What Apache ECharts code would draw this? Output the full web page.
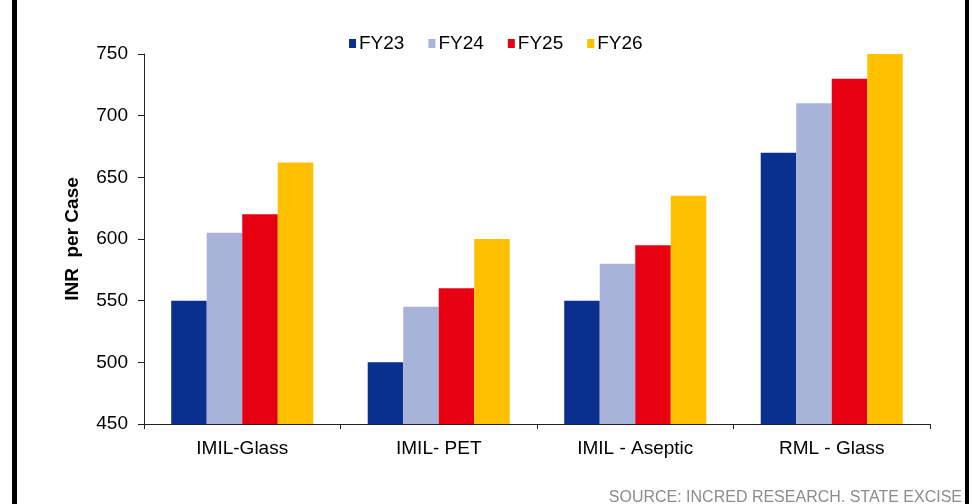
<!DOCTYPE html>
<html>
    <head>
        <meta charset="utf-8">
        <title>INR per Case</title>
        <script src="https://cdn.jsdelivr.net/npm/echarts@6/dist/echarts.min.js"></script>
        <style>
            html, body { margin: 0; padding: 0; background: #fff; }
            #chart1 { width: 973px; height: 504px; }
        </style>
    </head>
    <body>
        <div id="chart1"></div>
    </body>
    <script type="text/javascript">
        // categories and series values
        var categories = ['IMIL-Glass', 'IMIL- PET', 'IMIL - Aseptic', 'RML - Glass'];
        var seriesNames = ['FY23', 'FY24', 'FY25', 'FY26'];
        var fy23 = [550, 500, 550, 670];
        var fy24 = [605, 545, 580, 710];
        var fy25 = [620, 560, 595, 730];
        var fy26 = [662, 600, 635, 750];
        var yTicks = [450, 500, 550, 600, 650, 700, 750];

        var colors = ['#0a308f', '#a7b3d8', '#e60012', '#ffc000'];
        var values = [fy23, fy24, fy25, fy26];
        var font = 'Liberation Sans, Arial, sans-serif';

        var myChart1 = echarts.init(document.getElementById('chart1'));

        var option = {
            animation: false,
            textStyle: { fontFamily: font },
            grid: { left: 144, right: 43, top: 54, bottom: 80, containLabel: false },
            legend: {
                data: seriesNames,
                left: 349,
                top: 34,
                padding: 0,
                itemWidth: 7,
                itemHeight: 9,
                itemGap: 24,
                icon: 'rect',
                textStyle: { fontSize: 19, color: '#000', fontFamily: font, padding: [0, 0, 0, -2] }
            },
            xAxis: {
                type: 'category',
                data: categories,
                axisLine: { lineStyle: { color: '#222', width: 1 } },
                axisTick: { show: true, alignWithLabel: false, length: 5, lineStyle: { color: '#222' } },
                axisLabel: { fontSize: 19, color: '#000', margin: 15, interval: 0 }
            },
            yAxis: {
                type: 'value',
                min: yTicks[0],
                max: yTicks[yTicks.length - 1],
                interval: 50,
                name: 'INR  per Case',
                nameLocation: 'middle',
                nameGap: 62,
                nameTextStyle: { fontSize: 19, fontWeight: 'bold', color: '#000' },
                axisLine: { show: true, lineStyle: { color: '#222', width: 1 } },
                axisTick: { show: true, length: 6, lineStyle: { color: '#222' } },
                axisLabel: { fontSize: 19, color: '#000', margin: 16 },
                splitLine: { show: false }
            },
            series: seriesNames.map(function (name, i) {
                return {
                    name: name,
                    type: 'bar',
                    data: values[i],
                    barGap: '0%',
                    barCategoryGap: '27.7%',
                    itemStyle: { color: colors[i] }
                };
            }),
            graphic: [
                { type: 'rect', shape: { x: 12, y: 0, width: 5, height: 504 }, style: { fill: '#000' } },
                { type: 'rect', shape: { x: 965, y: 0, width: 4, height: 504 }, style: { fill: '#000' } },
                {
                    type: 'text',
                    right: 11,
                    bottom: -2,
                    style: {
                        text: 'SOURCE: INCRED RESEARCH. STATE EXCISE',
                        fill: '#8c8c8c',
                        font: '16px ' + font
                    }
                }
            ]
        };
        myChart1.setOption(option);
    </script>
</html>
